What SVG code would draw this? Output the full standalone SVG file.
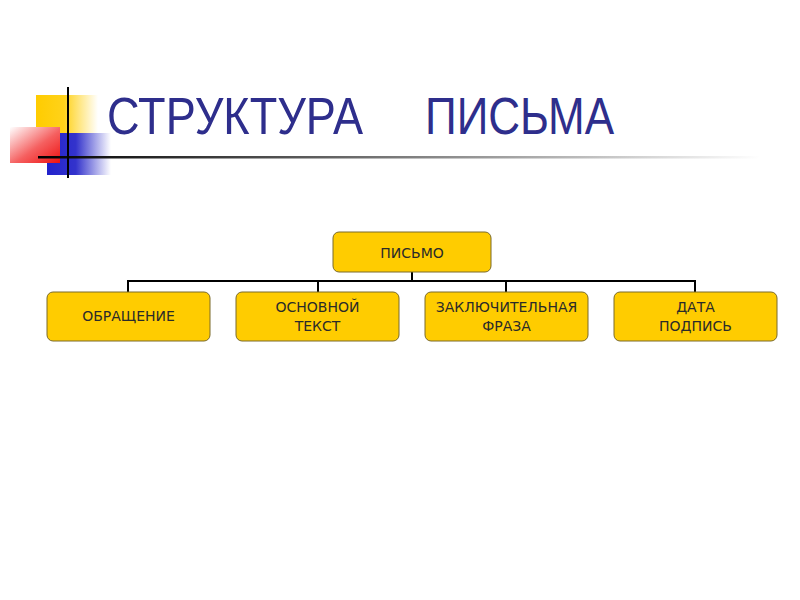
<svg xmlns="http://www.w3.org/2000/svg" width="800" height="600" viewBox="0 0 800 600">
<defs>
<linearGradient id="gy" x1="0" y1="0" x2="1" y2="0"><stop offset="0" stop-color="#FFCC00"/><stop offset="0.45" stop-color="#FFD21A"/><stop offset="1" stop-color="#FFFFFF"/></linearGradient>
<linearGradient id="gr" x1="0" y1="0" x2="1" y2="1"><stop offset="0" stop-color="#FFFFFF"/><stop offset="0.55" stop-color="#F56060"/><stop offset="1" stop-color="#EE1111"/></linearGradient>
<linearGradient id="gb" x1="0" y1="0" x2="1" y2="0"><stop offset="0" stop-color="#2222CC"/><stop offset="0.45" stop-color="#3333CC"/><stop offset="1" stop-color="#FFFFFF"/></linearGradient>
<linearGradient id="gl" x1="0" y1="0" x2="1" y2="0"><stop offset="0" stop-color="#000000"/><stop offset="0.35" stop-color="#555555"/><stop offset="0.75" stop-color="#BBBBBB"/><stop offset="1" stop-color="#FFFFFF"/></linearGradient>
<style>
.box{fill:#FFCC00;stroke:#7A6A2A;stroke-width:1}
.lbl{font-family:"DejaVu Sans",Verdana,sans-serif;font-size:14px;fill:#2a2a2a;text-anchor:middle}
.con{stroke:#000;stroke-width:2;fill:none}
.title{font-family:"Liberation Sans",Arial,sans-serif;font-size:52px;fill:#2E2E8C}
</style>
</defs>
<rect width="800" height="600" fill="#fff"/>
<g id="decor">
<rect x="36" y="95" width="62" height="56" fill="url(#gy)"/>
<rect x="47" y="133" width="64" height="42" fill="url(#gb)"/>
<rect x="10" y="127" width="50" height="36" fill="url(#gr)"/>
<rect x="38" y="156" width="722" height="2.5" fill="url(#gl)"/>
<line x1="68" y1="87" x2="68" y2="178" stroke="#000" stroke-width="2"/>
</g>
<text class="title" x="107" y="134" textLength="256" lengthAdjust="spacingAndGlyphs">СТРУКТУРА</text>
<text class="title" x="425" y="134" textLength="189" lengthAdjust="spacingAndGlyphs">ПИСЬМА</text>
<g id="connectors">
<path class="con" d="M412 272 V281 M128 281 H696 M128 280 V292 M318 280 V292 M506 280 V292 M695 280 V292"/>
</g>
<g id="n0"><rect class="box" x="333" y="232" width="158" height="40" rx="6"/><text class="lbl" x="412" y="258">ПИСЬМО</text></g>
<g id="n1"><rect class="box" x="47" y="292" width="163" height="49" rx="6"/><text class="lbl" x="128.5" y="321">ОБРАЩЕНИЕ</text></g>
<g id="n2"><rect class="box" x="236" y="292" width="163" height="49" rx="6"/><text class="lbl" x="317.5" y="312">ОСНОВНОЙ</text><text class="lbl" x="317.5" y="331">ТЕКСТ</text></g>
<g id="n3"><rect class="box" x="425" y="292" width="163" height="49" rx="6"/><text class="lbl" x="506.5" y="312">ЗАКЛЮЧИТЕЛЬНАЯ</text><text class="lbl" x="506.5" y="331">ФРАЗА</text></g>
<g id="n4"><rect class="box" x="614" y="292" width="163" height="49" rx="6"/><text class="lbl" x="695.5" y="312">ДАТА</text><text class="lbl" x="695.5" y="331">ПОДПИСЬ</text></g>
</svg>
